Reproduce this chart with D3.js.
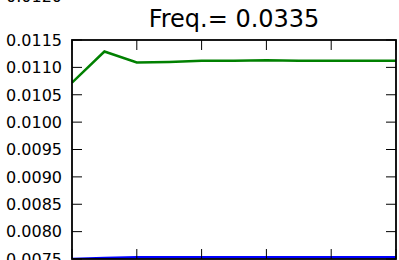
<!DOCTYPE html>
<html>
<head>
<meta charset="utf-8">
<script src="https://cdn.jsdelivr.net/npm/d3@7"></script>
<style>
  body { margin: 0; background: #fff; }
  svg { display: block; font-family: "DejaVu Sans", sans-serif; }
</style>
</head>
<body>
<div id="chart"></div>
<script>
const width = 399;
const height = 260;

// données
const steps = [0, 0.5, 1, 1.5, 2, 2.5, 3, 3.5, 4, 4.5, 5];
const greenVals = [0.01072, 0.01129, 0.01109, 0.01110, 0.01112, 0.01112, 0.01113, 0.01112, 0.01112, 0.01112, 0.01112];
const blueVals = [0.00750, 0.00752, 0.00753, 0.00753, 0.00753, 0.00753, 0.00753, 0.00753, 0.00753, 0.00753, 0.00753];
const yTicks = [0.0075, 0.0080, 0.0085, 0.0090, 0.0095, 0.0100, 0.0105, 0.0110, 0.0115];
const xTicks = [0, 1, 2, 3, 4, 5];
const title = "Freq.= 0.0335";

const margin = {top: 40, right: 3, bottom: 1, left: 72};

const x = d3.scaleLinear().domain([0, 5]).range([margin.left, width - margin.right]);
const y = d3.scaleLinear().domain([0.0075, 0.0115]).range([height - margin.bottom, margin.top]);

const svg = d3.create("svg")
    .attr("width", width)
    .attr("height", height);

svg.append("defs").append("clipPath").attr("id", "clip")
  .append("rect")
    .attr("x", x(0)).attr("y", y(0.0115))
    .attr("width", x(5) - x(0)).attr("height", y(0.0075) - y(0.0115));

// label coupé du graphique du dessus
svg.append("text")
    .attr("x", x(0) - 10)
    .attr("y", 2)
    .attr("text-anchor", "end")
    .style("font-size", "16px")
    .text("0.0120");

const line = d3.line().x((d, i) => x(steps[i])).y(d => y(d));

const g = svg.append("g").attr("clip-path", "url(#clip)");
g.append("path").datum(blueVals)
    .attr("d", line).attr("fill", "none")
    .attr("stroke", "#0000ff").attr("stroke-width", 2.5);
g.append("path").datum(greenVals)
    .attr("d", line).attr("fill", "none")
    .attr("stroke", "#008000").attr("stroke-width", 2.5);

// ticks vers l'intérieur, sur les 4 côtés
const tl = 10;
const ticks = svg.append("g").attr("stroke", "#000").attr("stroke-width", 1);
yTicks.forEach(t => {
  ticks.append("line").attr("x1", x(0)).attr("x2", x(0) + tl).attr("y1", y(t)).attr("y2", y(t));
  ticks.append("line").attr("x1", x(5)).attr("x2", x(5) - tl).attr("y1", y(t)).attr("y2", y(t));
});
xTicks.forEach(t => {
  ticks.append("line").attr("x1", x(t)).attr("x2", x(t)).attr("y1", y(0.0115)).attr("y2", y(0.0115) + tl);
  ticks.append("line").attr("x1", x(t)).attr("x2", x(t)).attr("y1", y(0.0075)).attr("y2", y(0.0075) - tl);
});

svg.append("g").selectAll("text")
  .data(yTicks)
  .join("text")
    .attr("x", x(0) - 10)
    .attr("y", d => y(d))
    .attr("dy", "0.36em")
    .attr("text-anchor", "end")
    .style("font-size", "16px")
    .text(d => d.toFixed(4));

// cadre
svg.append("rect")
    .attr("x", x(0)).attr("y", y(0.0115))
    .attr("width", x(5) - x(0)).attr("height", y(0.0075) - y(0.0115))
    .attr("fill", "none").attr("stroke", "#000").attr("stroke-width", 1.8);

svg.append("text")
    .attr("x", (x(0) + x(5)) / 2)
    .attr("y", 27)
    .attr("text-anchor", "middle")
    .style("font-size", "24px")
    .text(title);

document.getElementById("chart").appendChild(svg.node());
</script>
</body>
</html>
